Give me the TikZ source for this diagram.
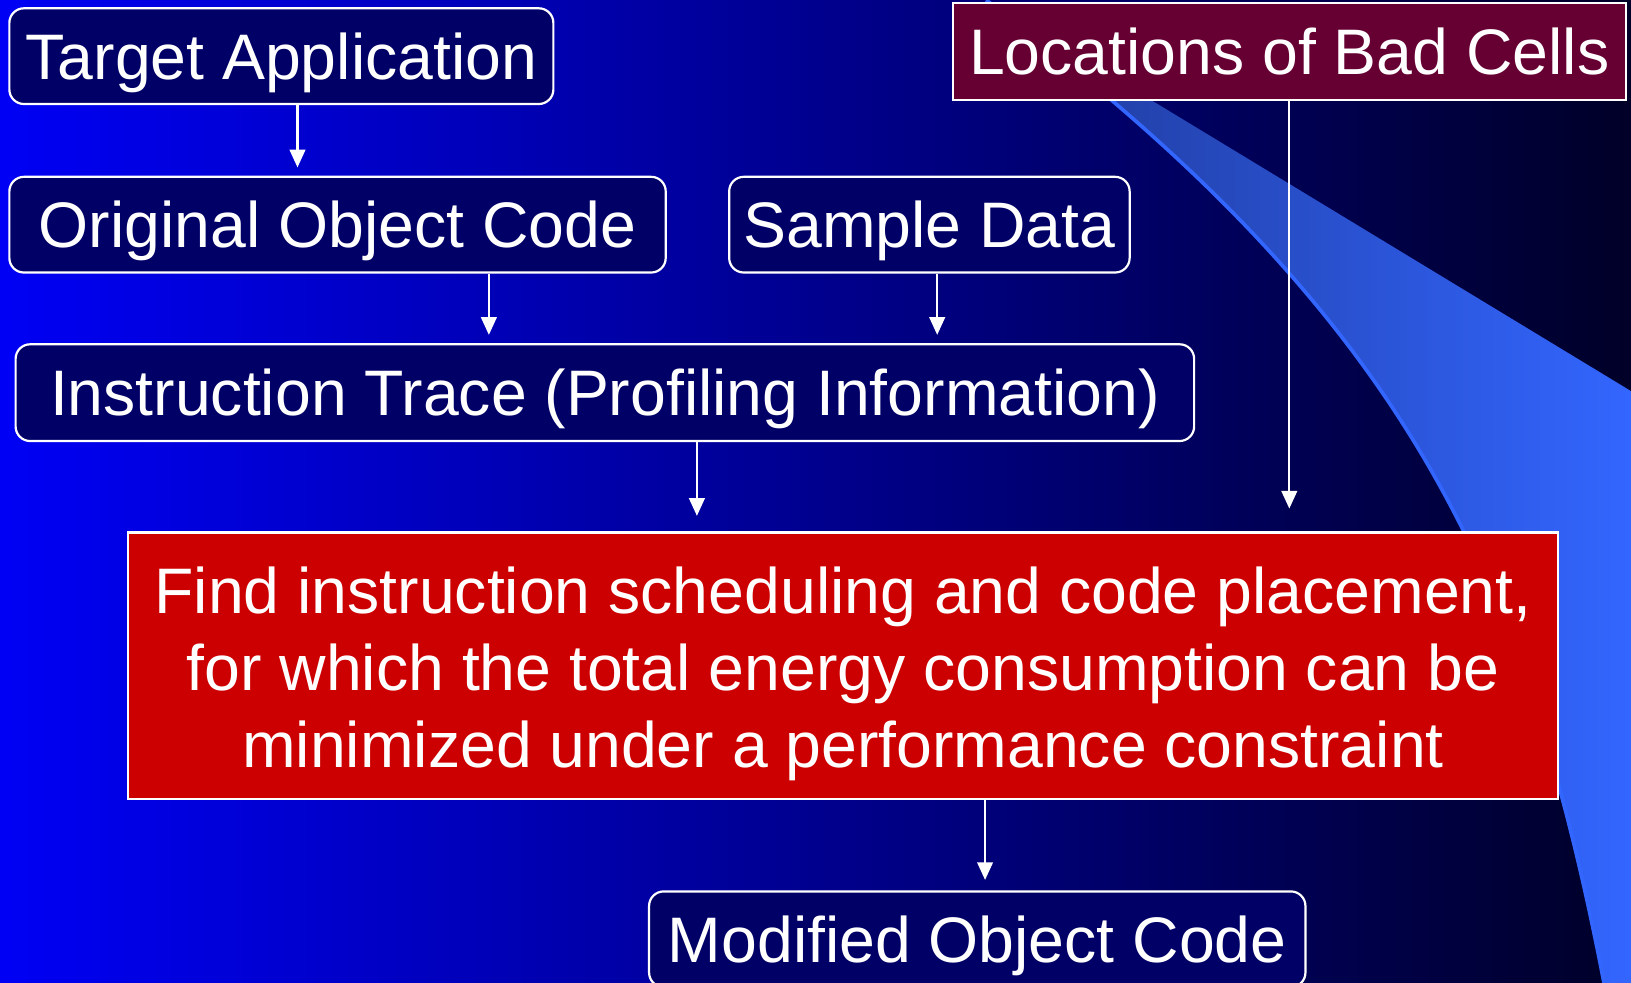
\documentclass[tikz,border=0pt]{standalone}
\usepackage{fontspec}
\setmainfont{Liberation Sans}
\usetikzlibrary{arrows.meta}
\definecolor{deepblue}{RGB}{0,0,245}
\definecolor{nightblue}{RGB}{0,0,40}
\definecolor{boxnavy}{RGB}{0,0,102}
\definecolor{cellwine}{RGB}{102,0,51}
\definecolor{goalred}{RGB}{204,0,0}
\definecolor{swooshdim}{RGB}{30,56,150}
\definecolor{swooshlight}{RGB}{51,102,255}
\tikzset{
	stage/.style={draw=white, line width=0.6pt, fill=boxnavy, rounded corners=0.14cm, text=white, inner sep=0pt, text height=0.55cm, text depth=0.11cm, font=\fontsize{17.6pt}{21pt}\selectfont},
	flow/.style={draw=white, line width=0.6pt, -{Triangle[width=0.15cm,length=0.17cm]}},
}
\def\swooshedge{(9.48, 0) .. controls (13.47, -3.00) and (14.65, -5.45) .. (15.42, -9.45)}

\begin{document}
\begin{tikzpicture}
		%%%%% START %%%%%
		
		\useasboundingbox (0, 0) rectangle (15.68, -9.45);
		\clip (0, 0) rectangle (15.68, -9.45);
		\shade[left color=deepblue, right color=nightblue] (0, 0) rectangle (15.68, -9.45);
		
		\shade[left color=swooshdim, right color=swooshlight] \swooshedge -- (15.68, -9.45) -- (15.68, -3.76) -- cycle;
		\draw[line width=1pt, color=swooshlight] \swooshedge;
		
		\node[stage, minimum width=5.23cm, minimum height=0.92cm] (tapp) at (2.705, -0.54) {Target Application};
		\node[stage, minimum width=6.31cm, minimum height=0.92cm] (orig) at (3.245, -2.16) {Original Object Code};
		\node[stage, minimum width=3.85cm, minimum height=0.92cm] (sample) at (8.935, -2.16) {Sample Data};
		\node[stage, minimum width=11.33cm, minimum height=0.93cm] (trace) at (5.815, -3.775) {Instruction Trace (Profiling Information)};
		\node[stage, rounded corners=0pt, fill=cellwine, minimum width=6.47cm, minimum height=0.93cm] (badcells) at (12.395, -0.495) {Locations of Bad Cells};
		\node[stage, rounded corners=0pt, fill=goalred, align=center, text height=, text depth=, minimum width=13.75cm, minimum height=2.56cm] (goal) at (8.105, -6.40) {\rule{0pt}{17.3pt}Find instruction scheduling and code placement,\\for which the total energy consumption can be\\minimized under a performance constraint};
		\node[stage, minimum width=6.31cm, minimum height=0.92cm] (modified) at (9.395, -9.03) {Modified Object Code};
		
		\draw[flow, shorten >=0.08cm] ([xshift=0.155cm]tapp.south) -- ([xshift=0.155cm]tapp.south |- orig.north);
		\draw[flow, shorten >=0.08cm] ([xshift=1.455cm]orig.south) -- ([xshift=1.455cm]orig.south |- trace.north);
		\draw[flow, shorten >=0.08cm] ([xshift=0.075cm]sample.south) -- ([xshift=0.075cm]sample.south |- trace.north);
		\draw[flow, shorten >=0.15cm] ([xshift=0.885cm]trace.south) -- ([xshift=0.885cm]trace.south |- goal.north);
		\draw[flow, shorten >=0.22cm] (badcells.south) -- (badcells.south |- goal.north);
		\draw[flow, shorten >=0.10cm] ([xshift=0.075cm]modified.north |- goal.south) -- ([xshift=0.075cm]modified.north);
		
		%%%%% END %%%%%
	\end{tikzpicture}
\end{document}
